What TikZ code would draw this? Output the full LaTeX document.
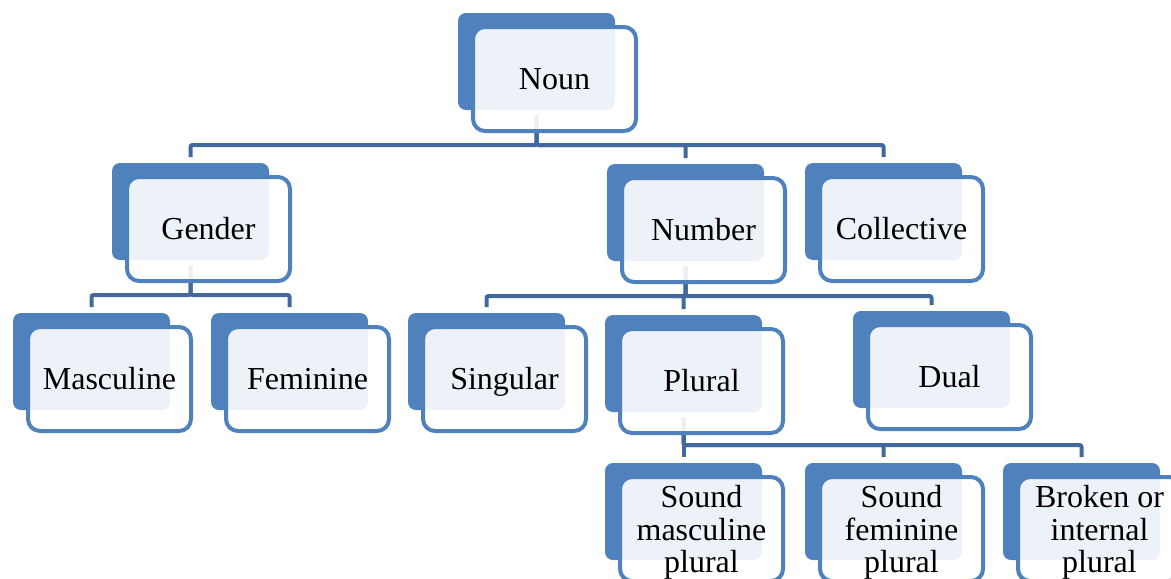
\documentclass[tikz,border=0pt]{standalone}
\usepackage{fontspec}
\setmainfont{Liberation Serif}
\usetikzlibrary{calc}
\definecolor{boxblue}{HTML}{4F81BD}
\definecolor{linkblue}{RGB}{66,105,158}
\pgfdeclarelayer{bg}
\pgfsetlayers{bg,main}
\tikzset{
  backbox/.style={fill=boxblue, rounded corners=4pt, minimum width=78.5pt, minimum height=48.5pt,
    inner sep=0pt, outer sep=0pt, anchor=north west},
  frontbox/.style={draw=boxblue, line width=2pt, fill=white, fill opacity=0.9, text opacity=1,
    rounded corners=6pt, minimum width=81.5pt, minimum height=52pt, inner sep=0pt, outer sep=0pt,
    anchor=north west, align=center, font=\fontsize{16pt}{16.25pt}\selectfont},
  oneline/.style={text height=12pt, text depth=1.5pt},
  multiline/.style={text depth=0pt},
  conn/.style={draw=linkblue, line width=2pt, rounded corners=1pt},
}
\newcommand\mybox[4][oneline]{%
  \node[backbox] (#2) at (#3) {};
  \node[frontbox,#1] (#2-f) at ([shift={(15,14)}]#2.north west) {#4};}
\begin{document}
\begin{tikzpicture}[x=0.5pt,y=-0.5pt]
\useasboundingbox (0,0) rectangle (1171,578);
\clip (0,0) rectangle (1171,578);
\mybox{noun}{458,13}{Noun}
\mybox{gender}{112,163}{Gender}
\mybox{number}{607,164}{Number}
\mybox{collective}{805,163}{Collective}
\mybox{masc}{13,313}{Masculine}
\mybox{fem}{211,313}{Feminine}
\mybox{sing}{408,313}{Singular}
\mybox{plural}{605,315}{Plural}
\mybox{dual}{853,311}{Dual}
\mybox[multiline]{smp}{605,463}{Sound\\masculine\\plural}
\mybox[multiline]{sfp}{805,463}{Sound\\feminine\\plural}
\mybox[multiline]{broken}{1003,463}{Broken or\\internal\\plural}
\begin{pgfonlayer}{bg}
  \foreach \c in {gender,number,collective}
    \draw[conn] ([yshift=-2.5pt]noun.south) -- ++(0,30) -| ([yshift=3pt]\c.north);
  \foreach \c in {masc,fem}
    \draw[conn] ([yshift=-2.5pt]gender.south) -- ++(0,30) -| ([yshift=3pt]\c.north);
  \foreach \c in {sing,plural,dual}
    \draw[conn] ([yshift=-2.5pt]number.south) -- ++(0,30) -| ([yshift=3pt]\c.north);
  \foreach \c in {smp,sfp,broken}
    \draw[conn] ([yshift=-2.5pt]plural.south) -- ++(0,28) -| ([yshift=3pt]\c.north);
\end{pgfonlayer}
\end{tikzpicture}
\end{document}
